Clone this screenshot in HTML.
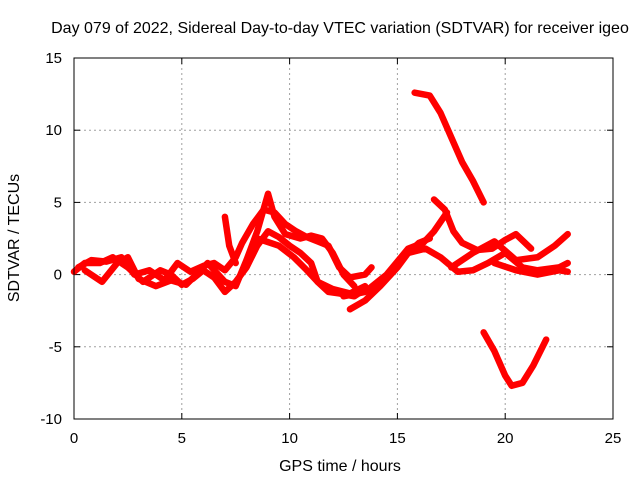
<!DOCTYPE html>
<html><head><meta charset="utf-8"><style>
body{margin:0;background:#fff}
svg{display:block;font-family:"Liberation Sans",sans-serif;font-size:15px}
</style></head><body>
<svg id="chart" width="640" height="480">
<text x="340" y="33" text-anchor="middle" font-size="16">Day 079 of 2022, Sidereal Day-to-day VTEC variation (SDTVAR) for receiver igeo</text>
<g id="grid"></g>
<g id="ticks"></g>
<g id="marks"></g>
<rect x="74" y="58" width="539" height="361" fill="none" stroke="#000"/>
<text x="340" y="471" text-anchor="middle" font-size="16">GPS time / hours</text>
<text transform="translate(19,238) rotate(-90)" text-anchor="middle" font-size="16">SDTVAR / TECUs</text>
</svg>
<script>
const xTicks=[0,5,10,15,20,25];
const yTicks=[-10,-5,0,5,10,15];
const trackA=[[0,0.2],[0.5,0.8],[1.2,0.8],[1.8,1.2],[2.5,0.5],[3.2,-0.5],[4.0,0.3],[4.5,0],[5.0,-0.7],[5.5,-0.3],[6.0,0.3],[6.5,-0.2],[7.0,-1.2],[7.5,-0.5],[8.0,0.5],[8.5,2.0],[9.0,3.0],[9.5,2.6],[10,2.0],[10.5,1.5],[11,0.8],[11.3,-0.5],[11.8,-1.2],[12.3,-1.3],[13,-1.5],[13.5,-1.0]];
const trackB=[[0.2,0.5],[0.8,1.0],[1.5,0.9],[2.2,1.2],[2.8,0],[3.5,0.3],[4.2,-0.4],[4.8,0.8],[5.4,0.2],[6.0,0.6],[6.5,0.8],[7.0,0.3],[7.5,1.2],[7.8,2.2],[8.3,3.5],[8.8,4.5],[9.3,4.3],[9.8,3.5],[10.3,3.0],[10.8,2.6],[11.3,2.3],[11.8,2.0],[12.3,0.5],[12.8,-0.2],[13.5,0],[13.8,0.5]];
const trackC=[[0.5,0.3],[1.3,-0.5],[2,0.8],[2.5,1.2],[3,-0.3],[3.8,-0.8],[4.5,-0.4],[5.2,-0.7],[5.8,0.2],[6.2,0.8],[7,-0.5],[7.5,-0.8],[8.0,1.0],[8.5,3.0],[9.0,5.6],[9.3,4.0],[9.8,2.8],[10.5,2.5],[11.0,2.7],[11.5,2.5],[12,1.5],[12.5,0],[13.0,-0.8]];
const trackD=[[7.0,4.0],[7.2,2.0],[7.5,0.8]];
const trackE=[[8.5,2.5],[9.5,2.0],[10.2,1.2],[10.8,0.3],[11.3,-0.5],[12,-1.0],[12.8,-1.3],[13.5,-0.8]];
const trackF=[[12.5,-1.5],[13.5,-1.2],[14.5,0.0],[15.5,1.8],[16.2,2.2],[16.7,3.0],[17.3,4.3]];
const trackG=[[12.8,-2.4],[13.5,-1.8],[14.2,-0.8],[15,0.5],[15.5,1.5],[16,2.2],[16.5,2.5]];
const trackH=[[15.8,12.6],[16.5,12.4],[17.0,11.2],[17.5,9.5],[18.0,7.8],[18.5,6.5],[19.0,5.0]];
const trackI=[[19.0,-4],[19.5,-5.3],[20.0,-7],[20.3,-7.7],[20.8,-7.5],[21.3,-6.3],[21.9,-4.5]];
const trackJ=[[16.7,5.2],[17.2,4.5],[17.6,3.0],[18.0,2.2],[18.7,1.7],[19.4,1.8],[20.0,2.4],[20.5,2.8],[21.2,1.8]];
const trackK=[[15.5,1.5],[16.3,1.8],[17,1.2],[17.8,0.2],[18.5,0.3],[19.2,0.8],[20,1.5],[20.8,0.5],[21.5,0.3],[22.5,0.5],[22.9,0.8]];
const trackL=[[17.5,0.5],[18.5,1.5],[19.5,2.3],[20.5,1.0],[21.5,1.2],[22.3,2.0],[22.9,2.8]];
const trackM=[[19.5,0.8],[20.5,0.3],[21.5,0.0],[22.5,0.3],[22.9,0.2]];
const tracks=[trackA,trackB,trackC,trackD,trackE,trackF,trackG,trackH,trackI,trackJ,trackK,trackL,trackM];
const X0=74,X1=613,Y0=419,Y1=58;
const xs=h=>X0+(h/25)*(X1-X0);
const ys=v=>Y0-((v+10)/25)*(Y0-Y1);
const NS="http://www.w3.org/2000/svg";
const grid=document.getElementById('grid'),ticks=document.getElementById('ticks'),marks=document.getElementById('marks');
function mk(tag,attrs,parent){const e=document.createElementNS(NS,tag);for(const k in attrs)e.setAttribute(k,attrs[k]);parent.appendChild(e);return e;}
xTicks.forEach(t=>{
  const x=xs(t);
  if(t>0&&t<25){const g=mk('line',{x1:x,x2:x,y1:Y1,y2:Y0,stroke:'#a0a0a0','stroke-dasharray':'2,3'},grid);
  
  }
  mk('line',{x1:x,x2:x,y1:Y0,y2:Y0-6,stroke:'#000'},ticks);
  mk('line',{x1:x,x2:x,y1:Y1,y2:Y1+6,stroke:'#000'},ticks);
  const l=mk('text',{x:x,y:443,'text-anchor':'middle'},ticks);l.textContent=t;
  
  
});
yTicks.forEach(t=>{
  const y=ys(t);
  if(t>-10&&t<15){const g=mk('line',{x1:X0,x2:X1,y1:y,y2:y,stroke:'#a0a0a0','stroke-dasharray':'2,3'},grid);
  
  }
  mk('line',{x1:X0,x2:X0+6,y1:y,y2:y,stroke:'#000'},ticks);
  mk('line',{x1:X1,x2:X1-6,y1:y,y2:y,stroke:'#000'},ticks);
  const l=mk('text',{x:62,y:y+5,'text-anchor':'end'},ticks);l.textContent=t;
  
  
});
tracks.forEach(tr=>{
  const p=mk('polyline',{points:tr.map(d=>xs(d[0])+','+ys(d[1])).join(' '),fill:'none',stroke:'#f00','stroke-width':6.5,'stroke-linejoin':'round','stroke-linecap':'round'},marks);
  
  
});
</script>
</body></html>
